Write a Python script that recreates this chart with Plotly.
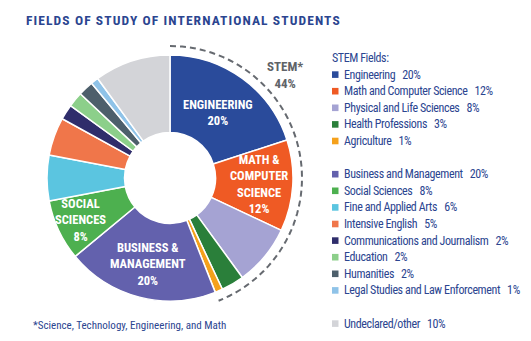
import math
import plotly.graph_objects as go

# ---------------- data ----------------
fields = ["Engineering", "Math and Computer Science", "Physical and Life Sciences",
          "Health Professions", "Agriculture",
          "Business and Management", "Social Sciences", "Fine and Applied Arts",
          "Intensive English", "Communications and Journalism", "Education",
          "Humanities", "Legal Studies and Law Enforcement",
          "Undeclared/other"]
shares = [20, 12, 8, 3, 1, 20, 8, 6, 5, 2, 2, 2, 1, 10]
groups = ["stem"] * 5 + ["other"] * 8 + ["undeclared"]
colors = ["#2a4b9b", "#ef5a24", "#a5a3d3", "#2a7f3a", "#f5a11c",
          "#6361ad", "#4db04f", "#5bc5e0", "#f0764a", "#2f2d6b",
          "#8ccf8a", "#4d5f6b", "#8fc3e8", "#d3d4d8"]
slice_labels = ["ENGINEERING", "MATH &<br>COMPUTER<br>SCIENCE", "", "", "",
                "BUSINESS &<br>MANAGEMENT", "SOCIAL<br>SCIENCES", "", "", "", "", "", "", ""]
title_text = "FIELDS OF STUDY OF INTERNATIONAL STUDENTS"
footnote = "*Science, Technology, Engineering, and Math"
legend_header = "STEM Fields:"

W, H = 531, 341
BLUE = "#2b4590"
NARROW = "Roboto Condensed, DejaVu Sans Condensed, sans-serif"

stem_total = sum(s for s, g in zip(shares, groups) if g == "stem")
total = sum(shares)

# pie geometry (pixels)
cx, cy, R = 170, 178, 123
Rp = 135  # polar frame radius for the dashed STEM arc
label_r = {0: 0.66, 1: 0.725, 5: 0.72, 6: 0.8}  # radial placement of in-slice labels


def xdom(c, r):
    return [(c - r) / W, (c + r) / W]


def ydom(c, r):
    return [(H - c - r) / H, (H - c + r) / H]


fig = go.Figure()
fig.add_trace(go.Pie(
    labels=fields, values=shares, textinfo="none",
    sort=False, direction="clockwise", rotation=0, hole=0.37,
    marker=dict(colors=colors, line=dict(color="white", width=1.5)),
    domain=dict(x=xdom(cx, R), y=ydom(cy, R)),
    showlegend=False, hoverinfo="label+percent",
))

# dashed arc spanning the STEM share
n = 60
arc_theta = [stem_total / total * 360 * i / n for i in range(n + 1)]
fig.add_trace(go.Scatterpolar(
    r=[132 / Rp] * (n + 1), theta=arc_theta, mode="lines",
    line=dict(color="#666a70", width=2, dash="6px,4px"),
    showlegend=False, hoverinfo="skip", subplot="polar",
))

fig.update_layout(
    width=W, height=H, autosize=False,
    margin=dict(l=0, r=0, t=0, b=0),
    paper_bgcolor="white", plot_bgcolor="white",
    polar=dict(
        domain=dict(x=xdom(cx, Rp), y=ydom(cy, Rp)),
        bgcolor="rgba(0,0,0,0)",
        radialaxis=dict(visible=False, range=[0, 1]),
        angularaxis=dict(visible=False, rotation=90, direction="clockwise"),
    ),
)

annotations = []
shapes = []

# in-slice labels, placed at each slice's mid-angle
cum = 0
for i, (lab, val) in enumerate(zip(slice_labels, shares)):
    mid = (cum + val / 2) / total * 2 * math.pi
    cum += val
    if not lab:
        continue
    rr = label_r.get(i, 0.7) * R
    px = cx + rr * math.sin(mid)
    py = cy - rr * math.cos(mid)
    annotations.append(dict(
        x=px / W, y=1 - py / H, xref="paper", yref="paper", xanchor="center", yanchor="middle",
        text=f"{lab}<br>{val}%", showarrow=False,
        font=dict(family=NARROW, size=12.5, color="white", weight="bold"),
    ))

# title
annotations.append(dict(
    x=24 / W, y=1 - 20 / H, xref="paper", yref="paper", xanchor="left", yanchor="middle",
    text=f'<span style="letter-spacing:1.1px">{title_text}</span>', showarrow=False,
    font=dict(family=NARROW, size=13.5, color=BLUE, weight="bold"),
))

# STEM label
annotations.append(dict(
    x=285 / W, y=1 - 75 / H, xref="paper", yref="paper", xanchor="center", yanchor="middle",
    text=f"STEM*<br>{stem_total}%", showarrow=False,
    font=dict(family=NARROW, size=13, color="#5f6368", weight="bold"),
))

# footnote
annotations.append(dict(
    x=31 / W, y=1 - 325 / H, xref="paper", yref="paper", xanchor="left", yanchor="middle",
    text=footnote, showarrow=False,
    font=dict(family=NARROW, size=11, color=BLUE),
))

# custom legend
lx_sq, lx_txt = 332, 342
y_pos = 58
step = 16.6
LEG_FONT = dict(family=NARROW, size=12, color=BLUE)
annotations.append(dict(
    x=(lx_sq - 2) / W, y=1 - y_pos / H, xref="paper", yref="paper", xanchor="left", yanchor="middle",
    text=f'<span style="letter-spacing:-0.4px">{legend_header}</span>', showarrow=False,
    font=LEG_FONT,
))
prev = "stem"
for name, val, g, col in zip(fields, shares, groups, colors):
    y_pos += step
    if g != prev:
        y_pos += step
        prev = g
    shapes.append(dict(type="rect", xref="paper", yref="paper",
                       x0=lx_sq / W, x1=(lx_sq + 6.5) / W,
                       y0=1 - (y_pos + 3.3) / H, y1=1 - (y_pos - 3.3) / H,
                       fillcolor=col, line=dict(width=0)))
    annotations.append(dict(
        x=lx_txt / W, y=1 - y_pos / H, xref="paper", yref="paper", xanchor="left", yanchor="middle",
        text=f'<span style="letter-spacing:-0.4px">{name}  &nbsp;{val}%</span>', showarrow=False,
        font=LEG_FONT,
    ))

fig.update_layout(annotations=annotations, shapes=shapes)
fig.write_html("out.html")
